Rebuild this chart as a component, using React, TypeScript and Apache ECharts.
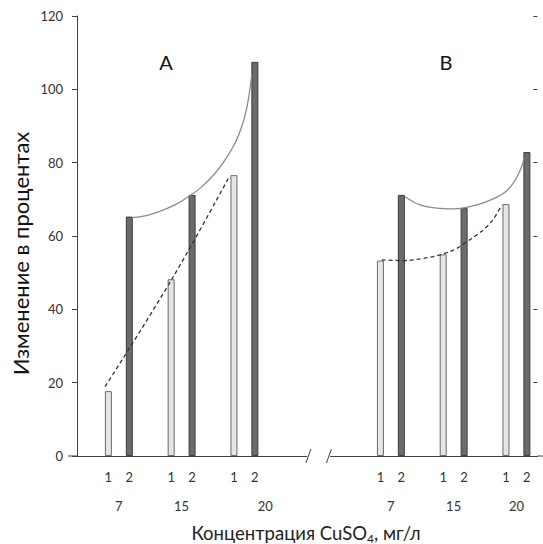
import React, { useEffect, useRef } from "react";
import * as echarts from "echarts";

const categories = ["", "1", "2", "", "1", "2", "", "1", "2", "", "", "", "", "", "1", "2", "", "1", "2", "", "1", "2"];

const groupLabels = [
  "", "", "", "", "7", "", "", "", "", "", "15", "", "", "", "", "", "", "", "20", "", "", "", "",
  "", "", "", "", "", "", "", "7", "", "", "", "", "", "15", "", "", "", "", "", "20", "", "",
];

const series1 = [null, 17.7, null, null, 48.2, null, null, 76.6, null, null, null, null, null, null, 53.3, null, null, 55.0, null, null, 68.7, null];
const series2 = [null, null, 65.3, null, null, 71.2, null, null, 107.5, null, null, null, null, null, null, 71.2, null, null, 67.6, null, null, 82.9];

const yTicks = { min: 0, max: 120, interval: 20 };

// curves, x in category-slot units
const solidA = [
  [2.64, 65.0], [3.25, 65.5], [3.89, 66.6], [4.68, 68.5], [5.32, 70.7], [5.96, 73.4], [6.6, 77.1],
  [7.07, 80.7], [7.55, 85.3], [7.87, 89.8], [8.11, 94.8], [8.27, 100.3], [8.35, 103.9],
];
const solidB = [
  [15.68, 70.7], [16.39, 68.5], [17.19, 67.6], [17.98, 67.4], [18.78, 68.0], [19.58, 69.4],
  [20.37, 71.6], [20.85, 74.4], [21.25, 78.9], [21.36, 81.2],
];
const dashA = [[1.34, 18.9], [4.53, 48.2], [7.23, 75.7]];
const dashB = [
  [14.56, 53.5], [15.59, 53.3], [16.55, 53.9], [17.43, 55.0], [18.15, 56.6], [18.62, 58.4],
  [19.1, 60.3], [19.58, 62.5], [19.98, 65.3], [20.3, 68.5],
];

const FONT = "Lato";
const TXT = "#333333";

export default function App() {
  const ref = useRef<HTMLDivElement>(null);
  useEffect(() => {
    if (!ref.current) return;
    const chart = echarts.init(ref.current, undefined, { renderer: "svg" });
    const option: any = {
      animation: false,
      textStyle: { fontFamily: FONT },
      grid: { left: 77, right: 5.65, top: 16, bottom: 88, containLabel: false },
      xAxis: [
        {
          type: "category",
          data: categories,
          axisLine: { show: true, lineStyle: { color: "#404040", width: 1 } },
          axisTick: { show: false },
          axisLabel: { interval: 0, margin: 14, fontSize: 13, color: TXT, fontFamily: FONT },
        },
        {
          type: "category",
          data: groupLabels,
          boundaryGap: false,
          position: "bottom",
          axisLine: { show: false },
          axisTick: { show: false },
          axisLabel: { interval: 0, margin: 43, fontSize: 13, color: TXT, fontFamily: FONT },
        },
        { type: "value", min: 0, max: 22, show: false },
      ],
      yAxis: [
        {
          type: "value",
          ...yTicks,
          axisLine: { show: true, lineStyle: { color: "#404040", width: 1 } },
          axisTick: { show: true, length: 5, lineStyle: { color: "#404040" } },
          axisLabel: { margin: 14, fontSize: 13, color: TXT, fontFamily: FONT },
          splitLine: { show: false },
        },
        {
          type: "value",
          ...yTicks,
          axisLine: { show: false },
          axisTick: { show: true, inside: true, length: 4, lineStyle: { color: "#404040" } },
          axisLabel: { show: false },
          splitLine: { show: false },
        },
      ],
      series: [
        {
          type: "bar",
          data: series1,
          xAxisIndex: 0,
          yAxisIndex: 0,
          barWidth: 7,
          barGap: "-100%",
          itemStyle: { color: "#e5e5e5", borderColor: "#6a6a6a", borderWidth: 1 },
          z: 2,
        },
        {
          type: "bar",
          data: series2,
          xAxisIndex: 0,
          yAxisIndex: 0,
          barWidth: 7,
          barGap: "-100%",
          itemStyle: { color: "#6e6a6a", borderColor: "#3c3c3c", borderWidth: 1 },
          z: 2,
        },
        ...[solidA, solidB].map((d) => ({
          type: "line",
          data: d,
          xAxisIndex: 2,
          yAxisIndex: 0,
          smooth: 0.4,
          showSymbol: false,
          lineStyle: { color: "#8a8a8a", width: 1.3 },
          z: 3,
        })),
        ...[dashA, dashB].map((d) => ({
          type: "line",
          data: d,
          xAxisIndex: 2,
          yAxisIndex: 0,
          smooth: 0.4,
          showSymbol: false,
          lineStyle: { color: "#333333", width: 1.3, type: [4, 3] },
          z: 3,
        })),
      ],
    };
    chart.setOption(option);

    const px = (x: number, y: number) =>
      chart.convertToPixel({ xAxisIndex: 2, yAxisIndex: 0 }, [x, y]) as number[];
    const [x0, y0] = px(0, 0);
    const [xEnd] = px(22, 0);
    const [g1] = px(11.0, 0);
    const [g2] = px(12.1, 0);
    const [s1] = px(11.06, 0);
    const [s2] = px(12.04, 0);
    const pA = px(4.25, 107.5);
    const pB = px(17.63, 107.5);

    chart.setOption({
      graphic: [
        { type: "line", shape: { x1: x0 - 9, y1: y0, x2: x0, y2: y0 }, style: { stroke: "#404040", lineWidth: 1 } },
        { type: "line", shape: { x1: xEnd, y1: y0, x2: 543, y2: y0 }, style: { stroke: "#404040", lineWidth: 1 } },
        { type: "rect", shape: { x: g1, y: y0 - 2, width: g2 - g1, height: 4 }, style: { fill: "#ffffff" }, z: 10 },
        { type: "line", shape: { x1: s1 - 2.5, y1: y0 + 7, x2: s1 + 2.5, y2: y0 - 7 }, style: { stroke: "#404040", lineWidth: 1 }, z: 11 },
        { type: "line", shape: { x1: s2 - 2.5, y1: y0 + 7, x2: s2 + 2.5, y2: y0 - 7 }, style: { stroke: "#404040", lineWidth: 1 }, z: 11 },
        { type: "text", x: pA[0], y: pA[1], style: { text: "A", fontSize: 20, fontFamily: FONT, fill: "#111", align: "center", verticalAlign: "middle" } },
        { type: "text", x: pB[0], y: pB[1], style: { text: "B", fontSize: 20, fontFamily: FONT, fill: "#111", align: "center", verticalAlign: "middle" } },
        {
          type: "text",
          x: 20,
          y: 253.5,
          rotation: Math.PI / 2,
          style: { text: "Изменение в процентах", fontSize: 22, fontFamily: FONT, fill: "#111", align: "center", verticalAlign: "middle" },
        },
        {
          type: "text",
          x: 306,
          y: 533,
          style: {
            text: "Концентрация CuSO{sub|4}, мг/л",
            fontSize: 18.5,
            fontFamily: FONT,
            fill: "#222",
            align: "center",
            verticalAlign: "middle",
            rich: {
              sub: { fontSize: 12, fontFamily: FONT, fill: "#222", padding: [10, 0, 0, 0] },
            },
          },
        },
      ],
    });

    return () => chart.dispose();
  }, []);
  return <div ref={ref} style={{ position: "absolute", left: 0, top: 0, width: 543, height: 544 }} />;
}
